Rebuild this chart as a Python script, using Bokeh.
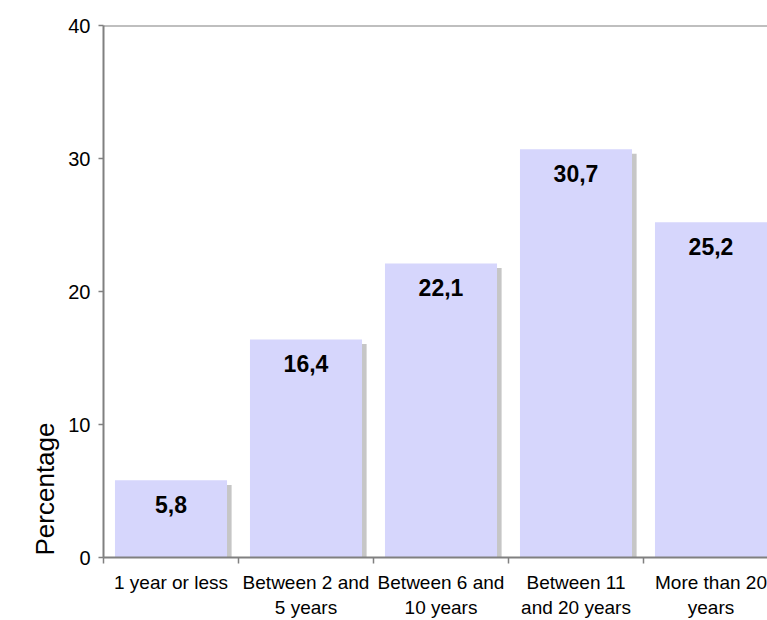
from bokeh.plotting import figure
from bokeh.models import ColumnDataSource, FixedTicker, Range1d, Span, Title
from bokeh.core.properties import value
from bokeh.embed import file_html
from bokeh.resources import INLINE

# Years of service, share of respondents (%)
categories = ["1 year or less", "Between 2 and\n5 years", "Between 6 and\n10 years",
              "Between 11\nand 20 years", "More than 20\nyears"]
values = [5.8, 16.4, 22.1, 30.7, 25.2]
y_ticks = [0, 10, 20, 30, 40]

FONT = "Liberation Sans"
BAR = "#d6d6fc"
SHADOW = "#c6c6c6"
AXIS = "#808080"
TEXT = "#000000"

centers = [i + 0.5 for i in range(len(categories))]
labels = [f"{v:.1f}".replace(".", ",") for v in values]

# drop shadow: a grey copy nudged right and down behind each bar
dx, dy = 0.034, 0.34
src = ColumnDataSource(dict(
    x=centers, top=values, label=labels,
    sx=[c + dx for c in centers], stop=[v - dy for v in values],
))

p = figure(width=767, height=620, output_backend="svg", toolbar_location=None,
           x_range=Range1d(0, 664 / 135), y_range=Range1d(0, 40),
           min_border_left=103, min_border_right=0,
           min_border_top=25, min_border_bottom=63)
p.outline_line_color = None
p.grid.grid_line_color = None
p.background_fill_color = "white"
p.border_fill_color = "white"

p.vbar(x="sx", top="stop", bottom=0, width=0.83, source=src,
       fill_color=SHADOW, line_color=None)
p.vbar(x="x", top="top", bottom=0, width=0.83, source=src,
       fill_color=BAR, line_color=None)
p.text(x="x", y="top", text="label", source=src, y_offset=24,
       text_align="center", text_baseline="middle",
       text_font=value(FONT), text_font_style="bold",
       text_font_size="23px", text_color=TEXT)

p.add_layout(Span(location=40, dimension="width", line_color=AXIS, line_width=2))

# x axis: category names at centers, short ticks at the boundaries
xa = p.xaxis[0]
xa.ticker = FixedTicker(ticks=centers, minor_ticks=list(range(len(categories) + 1)))
xa.major_label_overrides = {c: name for c, name in zip(centers, categories)}
xa.major_tick_line_color = None
xa.minor_tick_line_color = AXIS
xa.minor_tick_out = 6
xa.minor_tick_in = 0
xa.minor_tick_line_width = 1.5
xa.axis_line_color = AXIS
xa.axis_line_width = 2
xa.major_label_standoff = 8
xa.major_label_text_font = FONT
xa.major_label_text_font_size = "19px"
xa.major_label_text_color = TEXT

ya = p.yaxis[0]
ya.ticker = FixedTicker(ticks=y_ticks)
ya.major_tick_out = 5
ya.major_tick_in = 0
ya.major_tick_line_color = AXIS
ya.major_tick_line_width = 1.5
ya.minor_tick_line_color = None
ya.axis_line_color = AXIS
ya.axis_line_width = 2
ya.major_label_standoff = 8
ya.major_label_text_font = FONT
ya.major_label_text_font_size = "20px"
ya.major_label_text_color = TEXT

# axis title placed on the left side, aligned to the bottom of the frame
p.add_layout(Title(text="Percentage", align="left", offset=2, standoff=12,
                   text_font=FONT, text_font_style="normal",
                   text_font_size="26px", text_color=TEXT), "left")

open("out.html", "w").write(file_html(p, INLINE))
